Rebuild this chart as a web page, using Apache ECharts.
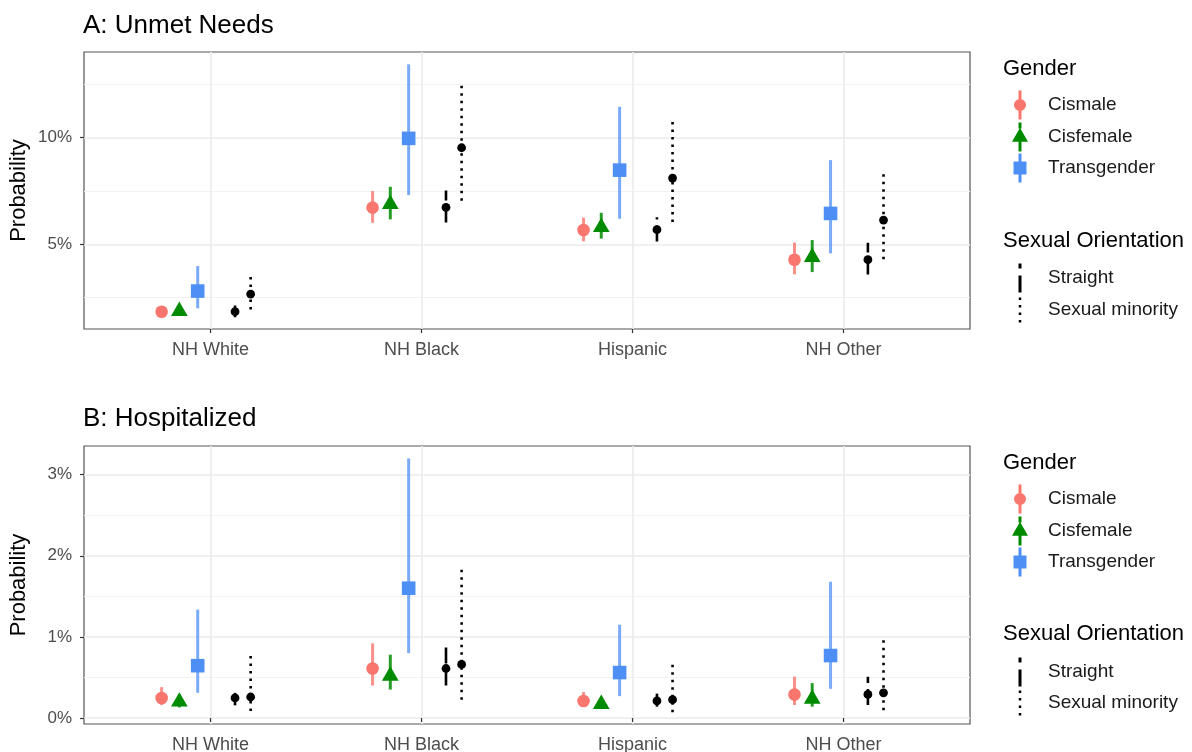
<!DOCTYPE html>
<html>
<head>
<meta charset="utf-8">
<script src="https://cdn.jsdelivr.net/npm/echarts@6/dist/echarts.min.js"></script>
<style>html,body{margin:0;padding:0;background:#fff}#chart{width:1192px;height:752px}</style>
</head>
<body>
<div id="chart"></div>
<script>
// ---------- data ----------
const categories = ['NH White', 'NH Black', 'Hispanic', 'NH Other'];

// Panel A: Unmet Needs (percent)
const unmetCismale      = [1.84, 6.72, 5.67, 4.28];
const unmetCismaleLo    = [1.62, 6.01, 5.14, 3.59];
const unmetCismaleHi    = [2.08, 7.50, 6.25, 5.08];
const unmetCisfemale    = [1.87, 6.88, 5.80, 4.40];
const unmetCisfemaleLo  = [1.70, 6.17, 5.27, 3.70];
const unmetCisfemaleHi  = [2.05, 7.70, 6.48, 5.20];
const unmetTrans        = [2.81, 9.97, 8.48, 6.45];
const unmetTransLo      = [2.00, 7.31, 6.20, 4.58];
const unmetTransHi      = [3.98, 13.44, 11.45, 8.95];
const unmetStraight     = [1.84, 6.73, 5.69, 4.28];
const unmetStraightLo   = [1.58, 6.02, 5.13, 3.59];
const unmetStraightHi   = [2.13, 7.52, 6.27, 5.08];
const unmetMinority     = [2.67, 9.53, 8.11, 6.14];
const unmetMinorityLo   = [1.95, 7.05, 6.05, 4.30];
const unmetMinorityHi   = [3.48, 12.59, 10.78, 8.44];

// Panel B: Hospitalized (percent)
const hospCismale       = [0.247, 0.61, 0.21, 0.29];
const hospCismaleLo     = [0.16, 0.40, 0.14, 0.16];
const hospCismaleHi     = [0.38, 0.92, 0.32, 0.51];
const hospCisfemale     = [0.20, 0.52, 0.17, 0.234];
const hospCisfemaleLo   = [0.13, 0.35, 0.11, 0.14];
const hospCisfemaleHi   = [0.29, 0.78, 0.25, 0.43];
const hospTrans         = [0.645, 1.60, 0.56, 0.77];
const hospTransLo       = [0.31, 0.80, 0.27, 0.36];
const hospTransHi       = [1.336, 3.20, 1.15, 1.68];
const hospStraight      = [0.247, 0.61, 0.21, 0.29];
const hospStraightLo    = [0.156, 0.40, 0.14, 0.16];
const hospStraightHi    = [0.31, 0.92, 0.30, 0.51];
const hospMinority      = [0.259, 0.66, 0.226, 0.31];
const hospMinorityLo    = [0.086, 0.226, 0.07, 0.095];
const hospMinorityHi    = [0.77, 1.87, 0.68, 0.99];

// axis ticks
const unmetTicks = [5, 10];
const unmetMinor = [2.5, 7.5, 12.5];
const hospTicks = [0, 1, 2, 3];
const hospMinor = [0.5, 1.5, 2.5];
const catTicks = [1, 2, 3, 4];

// ---------- styling ----------
const FONT = 'Liberation Sans, Arial, sans-serif';
const styles = {
  Cismale:          { dodge: -0.232, color: '#F8766D', marker: 'circle', lw: 3, dash: null, lineOpacity: 0.8 },
  Cisfemale:        { dodge: -0.148, color: '#008B00', marker: 'triangle', lw: 3, dash: null, lineOpacity: 0.85 },
  Transgender:      { dodge: -0.061, color: '#4E8FF6', marker: 'square', lw: 3, dash: null, lineOpacity: 0.75 },
  'Straight':       { dodge: 0.116, color: '#000000', marker: 'dot', lw: 2.6, dash: [16, 6], lineOpacity: 1 },
  'Sexual minority':{ dodge: 0.190, color: '#000000', marker: 'dot', lw: 2.6, dash: [2.5, 5], lineOpacity: 1 }
};

function makeRender(st) {
  return function (params, api) {
    const x = api.value(0), y = api.value(1), lo = api.value(2), hi = api.value(3);
    const pLo = api.coord([x, lo]);
    const pHi = api.coord([x, hi]);
    const p = api.coord([x, y]);
    const children = [{
      type: 'line',
      shape: { x1: pLo[0], y1: pLo[1], x2: pHi[0], y2: pHi[1] },
      style: { stroke: st.color, lineWidth: st.lw, lineDash: st.dash || null, lineCap: 'butt', opacity: st.lineOpacity }
    }];
    if (st.marker === 'circle') {
      children.push({ type: 'circle', shape: { cx: p[0], cy: p[1], r: 6.3 }, style: { fill: st.color } });
    } else if (st.marker === 'square') {
      children.push({ type: 'rect', shape: { x: p[0] - 6.8, y: p[1] - 6.8, width: 13.6, height: 13.6 }, style: { fill: st.color } });
    } else if (st.marker === 'triangle') {
      const k = 6.2;
      children.push({ type: 'polygon', shape: { points: [[p[0], p[1] - 1.555 * k], [p[0] + 1.347 * k, p[1] + 0.778 * k], [p[0] - 1.347 * k, p[1] + 0.778 * k]] }, style: { fill: st.color } });
    } else {
      children.push({ type: 'circle', shape: { cx: p[0], cy: p[1], r: 4.4 }, style: { fill: st.color } });
    }
    return { type: 'group', children };
  };
}

function buildSeries(panel, name, est, lo, hi) {
  const st = styles[name];
  return {
    type: 'custom',
    name: name,
    coordinateSystem: 'cartesian2d',
    xAxisIndex: panel,
    yAxisIndex: panel * 2,
    itemStyle: { color: st.color },
    renderItem: makeRender(st),
    encode: { x: 0, y: [1, 2, 3] },
    data: est.map((v, i) => [i + 1 + st.dodge, v, lo[i], hi[i]]),
    z: 3
  };
}

const series = [
  buildSeries(0, 'Cismale', unmetCismale, unmetCismaleLo, unmetCismaleHi),
  buildSeries(0, 'Cisfemale', unmetCisfemale, unmetCisfemaleLo, unmetCisfemaleHi),
  buildSeries(0, 'Transgender', unmetTrans, unmetTransLo, unmetTransHi),
  buildSeries(0, 'Straight', unmetStraight, unmetStraightLo, unmetStraightHi),
  buildSeries(0, 'Sexual minority', unmetMinority, unmetMinorityLo, unmetMinorityHi),
  buildSeries(1, 'Cismale', hospCismale, hospCismaleLo, hospCismaleHi),
  buildSeries(1, 'Cisfemale', hospCisfemale, hospCisfemaleLo, hospCisfemaleHi),
  buildSeries(1, 'Transgender', hospTrans, hospTransLo, hospTransHi),
  buildSeries(1, 'Straight', hospStraight, hospStraightLo, hospStraightHi),
  buildSeries(1, 'Sexual minority', hospMinority, hospMinorityLo, hospMinorityHi)
];

const grids = [
  { left: 84, top: 52, width: 886, height: 277 },
  { left: 84, top: 446, width: 886, height: 278 }
];

function xAxisFor(i) {
  return {
    type: 'value', gridIndex: i, min: 0.4, max: 4.6,
    axisLine: { show: false },
    axisTick: { show: true, length: 4, customValues: catTicks, lineStyle: { color: '#333', width: 1.2 } },
    axisLabel: { customValues: catTicks, margin: 12, fontSize: 18, color: '#4D4D4D', fontFamily: FONT,
      formatter: v => categories[Math.round(v) - 1] },
    splitLine: { show: true, lineStyle: { color: '#EBEBEB', width: 1.6 } }
  };
}
function yAxesFor(i, min, max, ticks, minor) {
  return [{
    type: 'value', gridIndex: i, min: min, max: max,
    name: 'Probability', nameLocation: 'middle', nameGap: 54, nameMoveOverlap: false,
    nameTextStyle: { fontSize: 22, color: '#000', fontFamily: FONT },
    axisLine: { show: false },
    axisTick: { show: true, length: 4, customValues: ticks, lineStyle: { color: '#333', width: 1.2 } },
    axisLabel: { customValues: ticks, margin: 12, fontSize: 17, color: '#4D4D4D', fontFamily: FONT, formatter: v => v + '%' },
    splitLine: { show: true, lineStyle: { color: '#EBEBEB', width: 1.6 } }
  }, {
    type: 'value', gridIndex: i, min: min, max: max,
    axisLine: { show: false },
    axisTick: { show: false, customValues: minor },
    axisLabel: { show: false, customValues: minor },
    splitLine: { show: true, lineStyle: { color: '#F2F2F2', width: 1 } }
  }];
}

// legend helpers (icon shapes)
function rect(x, y, w, h) { return `M${x},${y} L${x + w},${y} L${x + w},${y + h} L${x},${y + h} Z `; }
const iconCircle = 'path://' + rect(4.5, 0, 3, 9) + rect(4.5, 20, 3, 9) + 'M0,14.5 A6,6 0 1 1 12,14.5 A6,6 0 1 1 0,14.5 Z';
const iconTriangle = 'path://' + rect(6.5, 0, 3, 6) + rect(6.5, 18.5, 3, 10.5) + 'M0,19.3 L8,5.3 L16,19.3 Z';
const iconSquare = 'path://' + rect(5, 0, 3, 8.2) + rect(5, 20.8, 3, 8.2) + rect(0, 8, 13, 13);
const iconStraight = 'path://' + rect(0, 0, 3, 5) + rect(0, 12, 3, 17);
const iconMinority = 'path://' + rect(0, 0, 2.5, 2.5) + rect(0, 7.5, 2.5, 2.5) + rect(0, 15, 2.5, 2.5) + rect(0, 22.5, 2.5, 2.5);

const LEG_TEXT_X = 1048, LEG_ICON_X = 1020;
function legendItem(name, icon, w, h, cy) {
  return {
    data: [{ name: name, icon: icon }],
    orient: 'vertical', padding: 0, selectedMode: false,
    left: LEG_ICON_X - w / 2, top: cy - h / 2,
    itemWidth: w, itemHeight: h,
    textStyle: { fontSize: 19, color: '#1A1A1A', fontFamily: FONT, padding: [0, 0, 0, LEG_TEXT_X - (LEG_ICON_X + w / 2 + 5)] }
  };
}
const legends = [];
[[105, 137, 168, 278, 310], [499, 531, 562, 672, 703]].forEach(ys => {
  legends.push(legendItem('Cismale', iconCircle, 12, 29, ys[0]));
  legends.push(legendItem('Cisfemale', iconTriangle, 16, 29, ys[1]));
  legends.push(legendItem('Transgender', iconSquare, 13, 29, ys[2]));
  legends.push(legendItem('Straight', iconStraight, 3, 29, ys[3]));
  legends.push(legendItem('Sexual minority', iconMinority, 2.5, 25, ys[4]));
});

const titleStyle = (size) => ({ fontSize: size, fontWeight: 'normal', color: '#000', fontFamily: FONT });
const option = {
  animation: false,
  backgroundColor: '#fff',
  title: [
    { text: 'A: Unmet Needs', left: 83, top: 13, padding: 0, textStyle: titleStyle(26) },
    { text: 'B: Hospitalized', left: 83, top: 406, padding: 0, textStyle: titleStyle(26) },
    { text: 'Gender', left: 1003, top: 58, padding: 0, textStyle: titleStyle(22) },
    { text: 'Sexual Orientation', left: 1003, top: 230, padding: 0, textStyle: titleStyle(22) },
    { text: 'Gender', left: 1003, top: 452, padding: 0, textStyle: titleStyle(22) },
    { text: 'Sexual Orientation', left: 1003, top: 623, padding: 0, textStyle: titleStyle(22) }
  ],
  legend: legends,
  grid: grids.map(g => Object.assign({ show: true, borderColor: '#555', borderWidth: 1.2, backgroundColor: '#fff', containLabel: false, outerBoundsMode: 'none' }, g)),
  xAxis: [xAxisFor(0), xAxisFor(1)],
  yAxis: [].concat(yAxesFor(0, 1.03, 14.02, unmetTicks, unmetMinor), yAxesFor(1, -0.074, 3.353, hospTicks, hospMinor)),
  series: series
};

const chart = echarts.init(document.getElementById('chart'), null, { renderer: 'canvas' });
chart.setOption(option);
</script>
</body>
</html>
